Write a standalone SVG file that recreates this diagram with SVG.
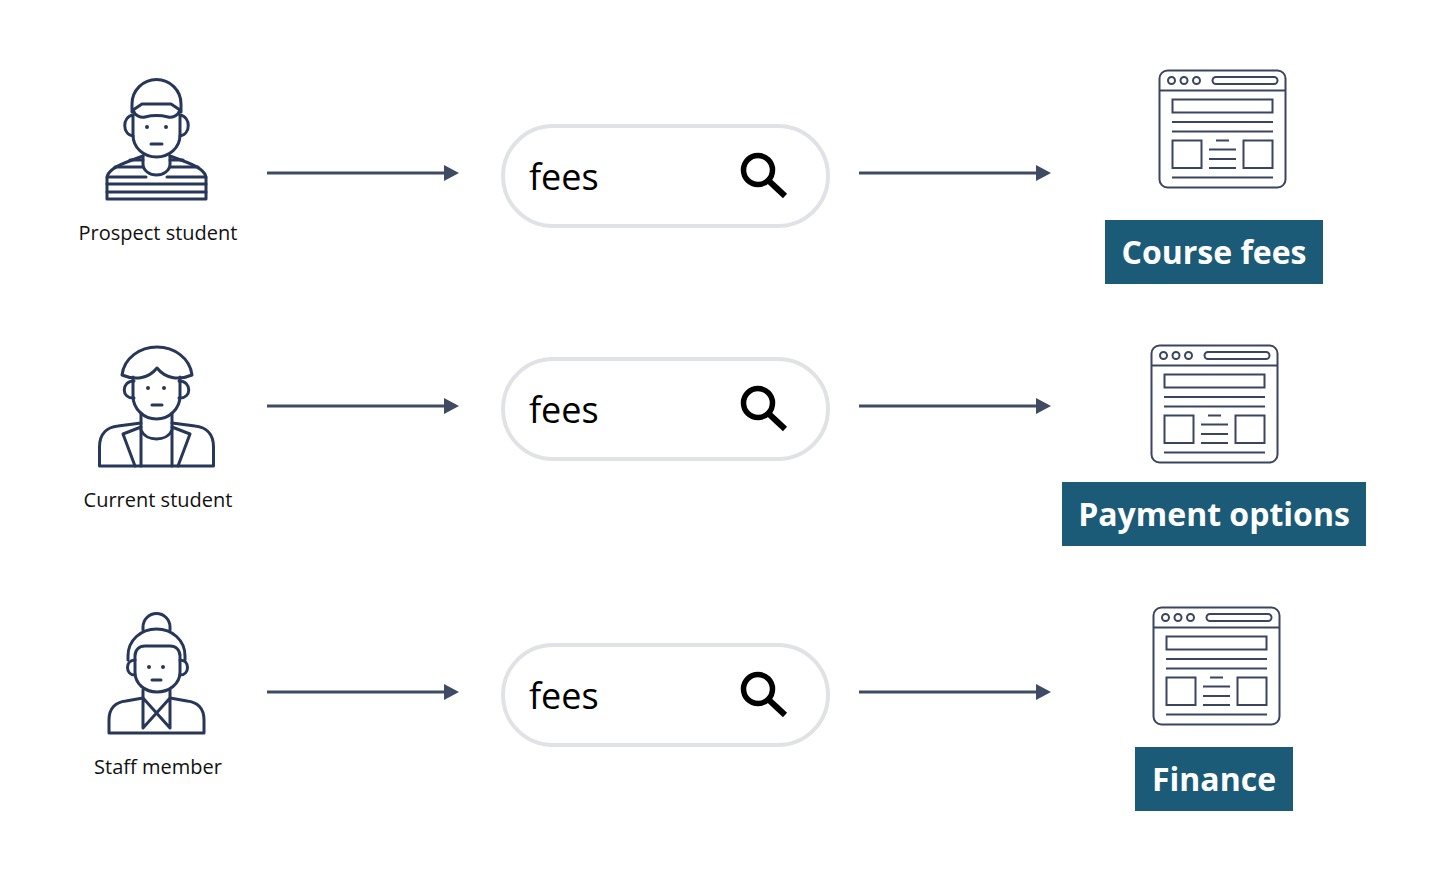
<svg xmlns="http://www.w3.org/2000/svg" width="1440" height="876" viewBox="0 0 1440 876">
<style>
.ic{fill:none;stroke:#27375a;stroke-width:3;stroke-linecap:round;stroke-linejoin:round}
.web{fill:none;stroke:#3a4560;stroke-width:2}
.cap{font:20px "Open Sans",sans-serif;fill:#111;text-anchor:middle}
.q{font:36px "Open Sans",sans-serif;fill:#000}
.ttl{font:bold 32px "Open Sans",sans-serif;fill:#fff;text-anchor:middle}
.box{fill:#1b5b78}
.pill{fill:#fff;stroke:#e1e2e6;stroke-width:4}
.arrow{fill:none;stroke:#3f4a63;stroke-width:3;marker-end:url(#ah)}
</style>
<defs>
<marker id="ah" markerUnits="userSpaceOnUse" markerWidth="16" markerHeight="18" refX="6" refY="9" orient="auto"><path d="M0,1L15,9L0,17Z" fill="#3f4a63"/></marker>
<g id="page" class="web">
<rect x="0.500" y="0.500" width="126" height="117" rx="8"/>
<path d="M0,20.500H127"/>
<circle cx="12.500" cy="10.500" r="3.500"/><circle cx="25" cy="10.500" r="3.500"/><circle cx="37.500" cy="10.500" r="3.500"/>
<rect x="53.500" y="7" width="65" height="7" rx="3.500"/>
<rect x="13.500" y="29.500" width="100" height="13"/>
<path d="M13,52H114M13,61.500H114"/>
<rect x="13.500" y="70.500" width="29" height="27.500"/><rect x="84.500" y="70.500" width="29" height="27.500"/>
<path d="M57,70.500H70M50,79.500H77M50,89H77M50,98H77M13,107.500H114"/>
</g>
<g id="search">
<rect class="pill" x="503" y="0" width="325" height="100" rx="50"/>
<text class="q" x="529" y="64">fees</text>
<circle cx="758" cy="44" r="14.500" fill="none" stroke="#000" stroke-width="5.500"/>
<path d="M769,55L785,70" fill="none" stroke="#000" stroke-width="6"/>
</g>
</defs>
<g id="person-prospect">
<g class="ic">
<path d="M132,112V104a24.500,24.500 0 0 1 49,0V112"/>
<path d="M133,110L142,104H171L180,110C178,116 172,118 168,117C160,115 153,115 145,117C141,118 135,116 133,110Z"/>
<path d="M133,115V135C133,148 144,157 156.500,157C169,157 180,148 180,135V115"/>
<path d="M133,115C122,117 122,134 133,136M180,115C191,117 191,134 180,136"/>
<path d="M151,144H162"/>
<path d="M143,156C130,161 119,164 113,169C109,172 107,175 107,178V199H206V178C206,175 204,172 200,169C194,164 183,161 170,156"/>
<path d="M143,156V164C143,171 150,175 156.500,175C163,175 170,171 170,164V156"/>
<path d="M107,177H146M167,177H206M107,184H206M107,192H206M115,167H143M170,167H198M130,160L143,160M170,160L183,160"/>
</g>
<circle cx="147" cy="127" r="2" fill="#27375a"/><circle cx="166" cy="127" r="2" fill="#27375a"/>
<text class="cap" x="158" y="240">Prospect student</text>
</g>
<g id="person-current">
<g class="ic">
<path d="M122,375C124,358 140,347 157,347C174,347 190,358 192,375C178,381 165,378 157,368C149,378 136,381 122,375Z"/>
<path d="M133,377V396C133,409 144,419 156.500,419C169,419 180,409 180,396V377"/>
<path d="M134,381C121,381 121,399 134,398M179,381C192,381 192,399 179,398"/>
<path d="M152,405H162"/>
<path d="M141,413V466M172,413V466"/>
<path d="M141,430C146,442 167,442 172,430"/>
<path d="M99.500,466H213.500V447C213.500,433 205,427 195,426L172,423M99.500,466V447C99.500,433 108,427 118,426L141,423"/>
<path d="M141,427L123,434L135,466M172,427L190,434L178,466"/>
</g>
<circle cx="148" cy="388" r="2" fill="#27375a"/><circle cx="164" cy="388" r="2" fill="#27375a"/>
<text class="cap" x="158" y="507">Current student</text>
</g>
<g id="person-staff">
<g class="ic">
<path d="M143,630V627a13.500,13.500 0 0 1 27,0V630"/>
<path d="M128,660V656C128,640 141,629 156.500,629C172,629 185,640 185,656V660"/>
<path d="M135,660V656C135,650 139,646 145,646H170C176,646 180,650 180,656V672C180,684 169,692 157,692C145,692 135,684 135,672Z"/>
<path d="M135,660C125,660 125,675 135,675M180,660C190,660 190,675 180,675"/>
<path d="M152,680H161"/>
<path d="M143,690V728L170,698M170,690V728L143,698"/>
<path d="M109,733H204V720C204,708 197,702 187,701L170,698M109,733V720C109,708 116,702 126,701L143,698"/>
</g>
<circle cx="149" cy="667" r="2" fill="#27375a"/><circle cx="163" cy="667" r="2" fill="#27375a"/>
<text class="cap" x="158" y="774">Staff member</text>
</g>
<g id="search-1"><use href="#search" y="126"/></g>
<g id="search-2"><use href="#search" y="359"/></g>
<g id="search-3"><use href="#search" y="645"/></g>
<g id="result-course"><use href="#page" x="1159" y="70"/><rect class="box" x="1105" y="220" width="218" height="64"/><text class="ttl" x="1214" y="264">Course fees</text></g>
<g id="result-payment"><use href="#page" x="1151" y="345"/><rect class="box" x="1062" y="482" width="304" height="64"/><text class="ttl" x="1214" y="526">Payment options</text></g>
<g id="result-finance"><use href="#page" x="1153" y="607"/><rect class="box" x="1135" y="747" width="158" height="64"/><text class="ttl" x="1214" y="791">Finance</text></g>
<g id="connectors">
<path class="arrow" d="M267,173H450"/><path class="arrow" d="M859,173H1042"/>
<path class="arrow" d="M267,406H450"/><path class="arrow" d="M859,406H1042"/>
<path class="arrow" d="M267,692H450"/><path class="arrow" d="M859,692H1042"/>
</g>
</svg>
